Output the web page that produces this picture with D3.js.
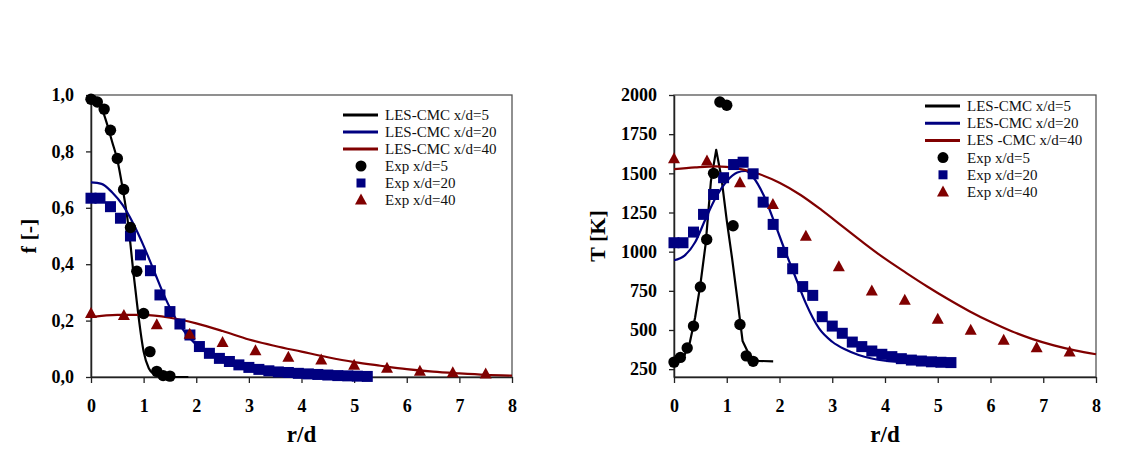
<!DOCTYPE html>
<html><head><meta charset="utf-8">
<script src="https://cdn.jsdelivr.net/npm/d3@7"></script>
<style>
html,body{margin:0;padding:0;background:#fff;}
svg{display:block;}
text{font-family:"Liberation Serif","Times New Roman",serif;}
</style></head>
<body><svg id="c" width="1134" height="450"></svg>
<script>
// ---------- DATA ----------
const xTicks = [0,1,2,3,4,5,6,7,8];
const xTickLabels = ["0","1","2","3","4","5","6","7","8"];
const fTicks = [0,0.2,0.4,0.6,0.8,1.0];
const fTickLabels = ["0,0","0,2","0,4","0,6","0,8","1,0"];
const tTicks = [250,500,750,1000,1250,1500,1750,2000];
const tTickLabels = ["250","500","750","1000","1250","1500","1750","2000"];

// LES-CMC lines, mixture fraction
const lesF5_r = [0,0.1,0.2,0.3,0.4,0.5,0.6,0.7,0.75,0.8,0.85,0.9,1.0,1.1,1.2,1.3,1.5,1.85];
const lesF5_v = [1.0,0.99,0.955,0.9,0.835,0.77,0.67,0.55,0.47,0.38,0.3,0.22,0.09,0.03,0.01,0.003,0,0];
const lesF20_r = [0,0.2,0.4,0.6,0.8,1.0,1.2,1.4,1.6,1.8,2.0,2.4,2.8,3.2,3.6,4.0,4.5,5.0,5.3];
const lesF20_v = [0.69,0.685,0.655,0.61,0.545,0.465,0.375,0.285,0.21,0.155,0.115,0.07,0.04,0.025,0.015,0.01,0.005,0.002,0.001];
const lesF40_r = [0,0.5,1.0,1.5,2.0,2.5,3.0,3.5,4.0,4.5,5.0,5.5,6.0,6.5,7.0,7.5,8.0];
const lesF40_v = [0.212,0.22,0.22,0.21,0.19,0.163,0.133,0.11,0.09,0.07,0.053,0.04,0.028,0.019,0.013,0.008,0.005];

// Experiments, mixture fraction
const exp5_r = [0,0.12,0.25,0.37,0.5,0.62,0.75,0.87,1.0,1.12,1.25,1.37,1.5];
const expF5_v = [0.985,0.975,0.95,0.875,0.775,0.665,0.53,0.375,0.225,0.09,0.02,0.005,0.003];
const exp20_r = [0,0.17,0.37,0.56,0.75,0.94,1.13,1.31,1.5,1.69,1.88,2.06,2.25,2.44,2.63,2.81,3.0,3.19,3.38,3.56,3.75,3.94,4.13,4.31,4.5,4.69,4.88,5.06,5.25];
const expF20_v = [0.634,0.634,0.604,0.563,0.5,0.433,0.377,0.291,0.232,0.188,0.149,0.108,0.084,0.066,0.055,0.043,0.034,0.027,0.022,0.018,0.016,0.013,0.011,0.009,0.007,0.005,0.004,0.003,0.002];
const exp40_r = [0,0.625,1.25,1.875,2.5,3.125,3.75,4.375,5.0,5.625,6.25,6.875,7.5];
const expF40_v = [0.225,0.218,0.185,0.152,0.122,0.093,0.07,0.06,0.042,0.031,0.02,0.015,0.011];

// LES-CMC lines, temperature
const lesT5_r = [0,0.1,0.2,0.3,0.4,0.5,0.6,0.7,0.8,0.9,1.0,1.1,1.2,1.3,1.4,1.5,1.6,1.88];
const lesT5_v = [290,305,340,420,580,790,1050,1450,1650,1470,1200,960,700,430,360,315,303,300];
const lesT20_r = [0,0.2,0.4,0.6,0.8,1.0,1.2,1.35,1.5,1.7,1.9,2.1,2.3,2.5,2.75,3.0,3.25,3.5,3.75,4.0,4.5,5.0,5.2];
const lesT20_v = [945,975,1060,1210,1350,1450,1505,1515,1475,1360,1190,1010,840,670,510,425,375,340,318,304,293,290,290];
const lesT40_r = [0,0.4,0.8,1.2,1.6,2.0,2.4,2.8,3.2,3.6,4.0,4.4,4.8,5.2,5.6,6.0,6.4,6.8,7.2,7.6,8.0];
const lesT40_v = [1527,1538,1545,1532,1497,1440,1362,1265,1160,1055,955,865,778,696,620,552,492,442,402,370,345];

// Experiments, temperature
const expT5_v = [295,325,385,525,775,1078,1500,1955,1935,1165,535,335,300];
const expT20_v = [1057,1057,1125,1238,1365,1472,1556,1571,1497,1316,1174,995,891,777,721,585,525,479,423,394,366,345,330,317,308,302,297,294,292];
const expT40_v = [1593,1578,1440,1301,1099,904,749,690,568,498,434,387,359];

const legendLeft = ["LES-CMC x/d=5","LES-CMC x/d=20","LES-CMC x/d=40","Exp x/d=5","Exp x/d=20","Exp x/d=40"];
const legendRight = ["LES-CMC x/d=5","LES-CMC x/d=20","LES -CMC x/d=40","Exp x/d=5","Exp x/d=20","Exp x/d=40"];

const BLACK="#000000", BLUE="#000080", RED="#800000";
const zip=(a,b)=>a.map((d,i)=>[d,b[i]]);

// ---------- DRAW ----------
const svg = d3.select("#c");
svg.append("rect").attr("width",1134).attr("height",450).attr("fill","#fff");

function panel(o){
  const g = svg.append("g");
  const x = d3.scaleLinear().domain([0,8]).range([o.x0,o.x1]);
  const y = d3.scaleLinear().domain(o.yDomain).range([o.y1,o.y0]);
  const cid = "clip"+o.id;
  svg.append("clipPath").attr("id",cid).append("rect")
    .attr("x",o.x0).attr("y",o.y0-2).attr("width",o.x1-o.x0+2).attr("height",o.y1-o.y0+4);

  // frame
  g.append("rect").attr("x",o.x0).attr("y",o.y0).attr("width",o.x1-o.x0).attr("height",o.y1-o.y0)
    .attr("fill","none").attr("stroke","#555").attr("stroke-width",1.3);

  // axes
  const xa = g.append("g").attr("transform",`translate(0,${o.y1})`)
    .call(d3.axisBottom(x).tickValues(xTicks).tickFormat((d,i)=>xTickLabels[i]).tickSizeInner(6).tickSizeOuter(0).tickPadding(16));
  const ya = g.append("g").attr("transform",`translate(${o.x0},0)`)
    .call(d3.axisLeft(y).tickValues(o.yTicks).tickFormat((d,i)=>o.yTickLabels[i]).tickSizeInner(5).tickSizeOuter(0).tickPadding(12));
  [xa,ya].forEach(a=>{
    a.select(".domain").attr("stroke","#222").attr("stroke-width",1.5);
    a.selectAll(".tick line").attr("stroke","#222").attr("stroke-width",1.3);
    a.selectAll("text").attr("font-family","Liberation Serif").attr("font-weight","bold")
      .attr("font-size",18).attr("fill","#000");
  });

  // axis titles
  g.append("text").attr("x",(o.x0+o.x1)/2).attr("y",442).attr("text-anchor","middle")
    .attr("font-weight","bold").attr("font-size",23).text("r/d");
  g.append("text").attr("transform",`translate(${o.yLabelX},${(o.y0+o.y1)/2}) rotate(-90)`)
    .attr("text-anchor","middle").attr("font-weight","bold").attr("font-size",22).text(o.yLabel);

  const line = (c)=>d3.line().x(d=>x(d[0])).y(d=>y(d[1])).curve(c||d3.curveMonotoneX);
  const pl = g.append("g").attr("clip-path",`url(#${cid})`);

  const mk = g.append("g");
  mk.selectAll(".sq").data(zip(exp20_r,o.e20)).join("rect")
    .attr("x",d=>x(d[0])-5.5).attr("y",d=>y(d[1])-5.5).attr("width",11).attr("height",11).attr("fill",BLUE);
  mk.selectAll(".tr").data(zip(exp40_r,o.e40)).join("path")
    .attr("transform",d=>`translate(${x(d[0])},${y(d[1])})`)
    .attr("d","M0,-6.5L6,4.5L-6,4.5Z").attr("fill",RED);

  o.lines.forEach(L=>{
    pl.append("path").datum(zip(L.r,L.v)).attr("d",line(L.curve)).attr("fill","none")
      .attr("stroke",L.c).attr("stroke-width",2.2).attr("stroke-linejoin","round");
  });
  mk.append("g").selectAll("circle").data(zip(exp5_r,o.e5)).join("circle")
    .attr("cx",d=>x(d[0])).attr("cy",d=>y(d[1])).attr("r",5.7).attr("fill",BLACK);

  // legend
  const lg = g.append("g");
  const labels = o.legend;
  const cols=[BLACK,BLUE,RED];
  labels.forEach((t,i)=>{
    const yy = o.legY + i*o.legStep;
    if(i<3){
      lg.append("line").attr("x1",o.legX).attr("x2",o.legX+35).attr("y1",yy).attr("y2",yy)
        .attr("stroke",cols[i]).attr("stroke-width",3);
    } else {
      const cx=o.legX+18;
      if(i===3) lg.append("circle").attr("cx",cx).attr("cy",yy).attr("r",5.5).attr("fill",BLACK);
      if(i===4) lg.append("rect").attr("x",cx-4.5).attr("y",yy-4.5).attr("width",9).attr("height",9).attr("fill",BLUE);
      if(i===5) lg.append("path").attr("transform",`translate(${cx},${yy})`).attr("d","M0,-6.5L6,4.5L-6,4.5Z").attr("fill",RED);
    }
    lg.append("text").attr("x",o.legX+42).attr("y",yy).attr("dy","0.33em")
      .attr("font-size",15).attr("fill","#111").text(t);
  });
}

panel({id:"L",x0:91,x1:512,y0:95,y1:377,yDomain:[0,1],yTicks:fTicks,yTickLabels:fTickLabels,
  yLabel:"f [-]",yLabelX:36,
  e5:expF5_v,e20:expF20_v,e40:expF40_v,
  lines:[{r:lesF5_r,v:lesF5_v,c:BLACK},{r:lesF20_r,v:lesF20_v,c:BLUE},{r:lesF40_r,v:lesF40_v,c:RED}],
  legend:legendLeft,legX:343,legY:115,legStep:17});

panel({id:"R",x0:674,x1:1096,y0:95,y1:377,yDomain:[200,2000],yTicks:tTicks,yTickLabels:tTickLabels,
  yLabel:"T [K]",yLabelX:605,
  e5:expT5_v,e20:expT20_v,e40:expT40_v,
  lines:[{r:lesT5_r,v:lesT5_v,c:BLACK,curve:d3.curveLinear},{r:lesT20_r,v:lesT20_v,c:BLUE},{r:lesT40_r,v:lesT40_v,c:RED}],
  legend:legendRight,legX:925,legY:106,legStep:17.2});
</script></body></html>
